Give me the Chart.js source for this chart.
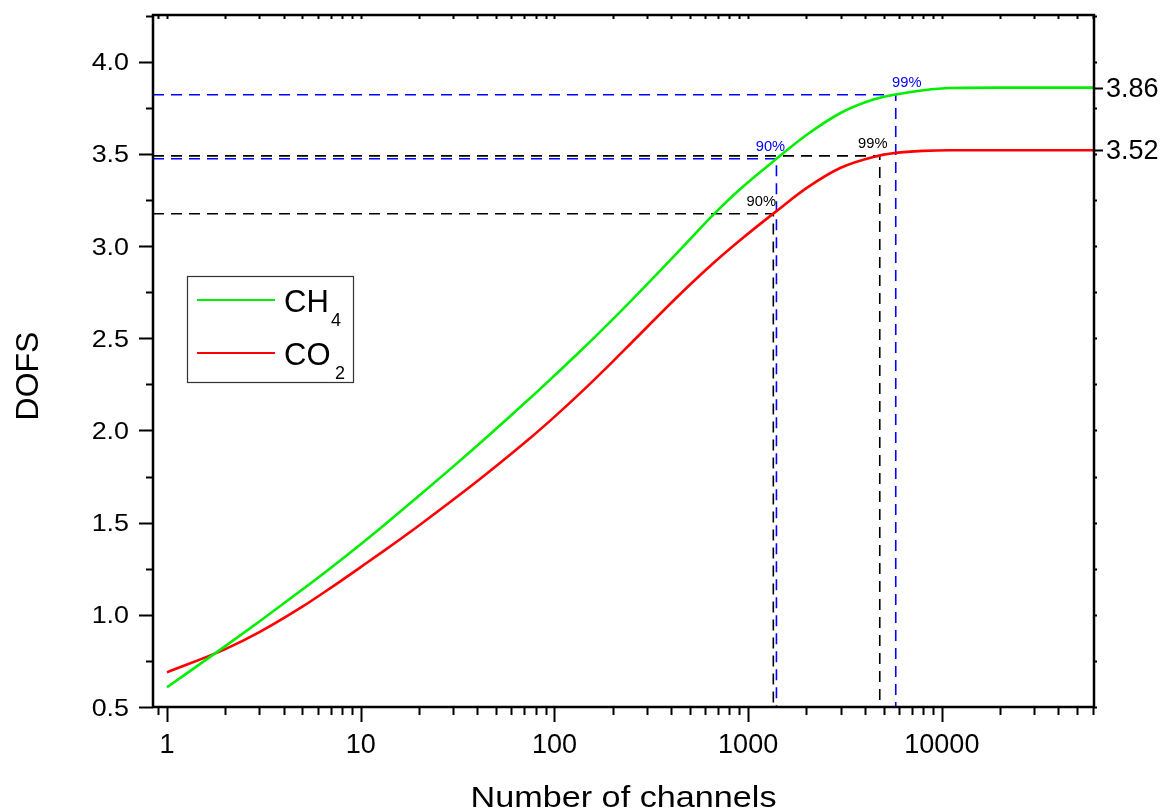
<!DOCTYPE html>
<html>
<head>
<meta charset="utf-8">
<title>DOFS vs number of channels</title>
<script src="https://cdn.jsdelivr.net/npm/chart.js@4.4.1/dist/chart.umd.min.js"></script>
<style>
  html, body { margin: 0; padding: 0; background: #fff; }
  #wrap { width: 1162px; height: 810px; }
</style>
</head>
<body>
<div id="wrap"><canvas id="dofsChart" width="1162" height="810"></canvas></div>
<script>
// channel counts and DOFS
const channels = [1, 2, 3, 5, 7, 10, 13, 20, 30, 45, 75, 100, 135, 200, 250, 445, 660, 908, 1400, 2008, 2985, 4430, 5780, 8035, 11000, 20000, 61000];
const ch4Dofs = [0.607, 0.83, 0.964, 1.137, 1.254, 1.383, 1.481, 1.646, 1.804, 1.966, 2.176, 2.298, 2.427, 2.603, 2.706, 2.98, 3.17, 3.309, 3.474, 3.604, 3.721, 3.795, 3.823, 3.846, 3.858, 3.86, 3.86];
const co2Dofs = [0.688, 0.814, 0.906, 1.044, 1.146, 1.259, 1.343, 1.485, 1.624, 1.768, 1.959, 2.074, 2.2, 2.374, 2.476, 2.739, 2.907, 3.032, 3.19, 3.316, 3.424, 3.484, 3.506, 3.517, 3.52, 3.52, 3.52];

// axis ranges and labelled ticks
const xRange = [0.847, 61000];
const yRange = [0.5, 4.254];
const xTicks = [1, 10, 100, 1000, 10000];
const yTicks = [0.5, 1.0, 1.5, 2.0, 2.5, 3.0, 3.5, 4.0];
const plateauTicks = [3.86, 3.52];

// 90% / 99% of the plateau: CO2, CH4, CO2, CH4
const markerChannels = [1349, 1400, 4780, 5780];
const markerDofs = [3.176, 3.474, 3.49, 3.821];
const markerLabels = ['90%', '90%', '99%', '99%'];

const markerColors = ['#000000', '#0000ff', '#000000', '#0000ff'];
const labelShift = [-12, -6, -7, 11];
const FONT = '"Liberation Sans", Arial, Helvetica, sans-serif';

const toPoints = (xs, ys) => xs.map((x, i) => ({ x: x, y: ys[i] }));

const markerSets = markerChannels.map((mx, i) => ({
  label: 'marker' + i,
  data: [
    { x: xRange[0], y: markerDofs[i] },
    { x: mx, y: markerDofs[i] },
    { x: mx, y: yRange[0] }
  ],
  borderColor: markerColors[i],
  borderWidth: 1.6,
  borderDash: [11, 7],
  pointRadius: 0,
  tension: 0,
  order: 2
}));

function putText(ctx, str, x, y, size, align, sx, color) {
  ctx.save();
  ctx.translate(x, y);
  ctx.scale(sx, 1);
  ctx.font = size + 'px ' + FONT;
  ctx.fillStyle = color || '#000';
  ctx.textAlign = align;
  ctx.textBaseline = 'alphabetic';
  ctx.fillText(str, 0, 0);
  ctx.restore();
}

// frame, ticks, labels, legend
const framePlugin = {
  id: 'frame',
  afterDraw(chart) {
    const ctx = chart.ctx;
    const a = chart.chartArea;
    const xs = chart.scales.x;
    const ys = chart.scales.y;

    ctx.save();
    ctx.strokeStyle = '#000';
    ctx.lineWidth = 2.5;
    ctx.strokeRect(a.left, a.top, a.right - a.left, a.bottom - a.top);

    // log ticks on bottom (outward) and top (inward)
    ctx.lineWidth = 2;
    ctx.beginPath();
    for (let d = 0.1; d <= 10000; d *= 10) {
      for (let m = 1; m <= 9; m++) {
        const n = m * d;
        if (n < xRange[0] || n > xRange[1]) continue;
        const px = Math.round(xs.getPixelForValue(n)) + 0.5;
        const len = m === 1 ? 15 : 8;
        ctx.moveTo(px, a.bottom);
        ctx.lineTo(px, a.bottom + len);
        ctx.moveTo(px, a.top);
        ctx.lineTo(px, a.top + 4);
      }
    }
    // linear ticks left (outward) and right (small, outward)
    for (let v = 0.5; v <= 4.25; v += 0.25) {
      const py = Math.round(ys.getPixelForValue(v)) + 0.5;
      const major = Math.abs(v * 2 - Math.round(v * 2)) < 1e-6;
      ctx.moveTo(a.left, py);
      ctx.lineTo(a.left - (major ? 14 : 7), py);
      ctx.moveTo(a.right, py);
      ctx.lineTo(a.right + 3, py);
    }
    plateauTicks.forEach(v => {
      const py = Math.round(ys.getPixelForValue(v)) + 0.5;
      ctx.moveTo(a.right, py);
      ctx.lineTo(a.right + 9, py);
    });
    ctx.stroke();
    ctx.restore();

    // tick labels
    yTicks.forEach(v => {
      putText(ctx, v.toFixed(1), a.left - 24, ys.getPixelForValue(v) + 8.5, 24, 'right', 1.12);
    });
    xTicks.forEach(v => {
      putText(ctx, String(v), xs.getPixelForValue(v), a.bottom + 46, 27, 'center', 1.0);
    });
    plateauTicks.forEach(v => {
      putText(ctx, v.toFixed(2), a.right + 12, ys.getPixelForValue(v) + 9, 27, 'left', 1.0);
    });

    // axis titles
    putText(ctx, 'Number of channels', (a.left + a.right) / 2, 807, 30, 'center', 1.14);
    ctx.save();
    ctx.translate(38, (a.top + a.bottom) / 2 + 15);
    ctx.rotate(-Math.PI / 2);
    putText(ctx, 'DOFS', 0, 0, 32, 'center', 1.0);
    ctx.restore();

    // percent labels above each marker point
    markerChannels.forEach((mx, i) => {
      putText(ctx, markerLabels[i], xs.getPixelForValue(mx) + labelShift[i],
        ys.getPixelForValue(markerDofs[i]) - 8, 14, 'center', 1.05, markerColors[i]);
    });

    // legend box
    ctx.save();
    ctx.strokeStyle = '#333';
    ctx.lineWidth = 1.2;
    ctx.strokeRect(187.5, 276.5, 166, 106);
    ctx.lineWidth = 2.2;
    ctx.strokeStyle = '#00ee00';
    ctx.beginPath(); ctx.moveTo(197, 300); ctx.lineTo(275, 300); ctx.stroke();
    ctx.strokeStyle = '#ff0000';
    ctx.beginPath(); ctx.moveTo(197, 353); ctx.lineTo(275, 353); ctx.stroke();
    ctx.restore();
    putText(ctx, 'CH', 284, 312, 31, 'left', 1.0);
    putText(ctx, '4', 331, 326, 18, 'left', 1.0);
    putText(ctx, 'CO', 284, 365, 31, 'left', 1.0);
    putText(ctx, '2', 335, 379, 18, 'left', 1.0);
  }
};

new Chart(document.getElementById('dofsChart'), {
  type: 'line',
  data: {
    datasets: [
      {
        label: 'CH4',
        data: toPoints(channels, ch4Dofs),
        borderColor: '#00ee00',
        borderWidth: 2.6,
        pointRadius: 0,
        cubicInterpolationMode: 'monotone',
        order: 1
      },
      {
        label: 'CO2',
        data: toPoints(channels, co2Dofs),
        borderColor: '#ff0000',
        borderWidth: 2.6,
        pointRadius: 0,
        cubicInterpolationMode: 'monotone',
        order: 1
      },
      ...markerSets
    ]
  },
  options: {
    responsive: false,
    animation: false,
    devicePixelRatio: 1,
    layout: { padding: { left: 153, right: 68, top: 15, bottom: 103 } },
    plugins: { legend: { display: false }, tooltip: { enabled: false } },
    scales: {
      x: { type: 'logarithmic', min: xRange[0], max: xRange[1], display: false },
      y: { type: 'linear', min: yRange[0], max: yRange[1], display: false }
    }
  },
  plugins: [framePlugin]
});
</script>
</body>
</html>
